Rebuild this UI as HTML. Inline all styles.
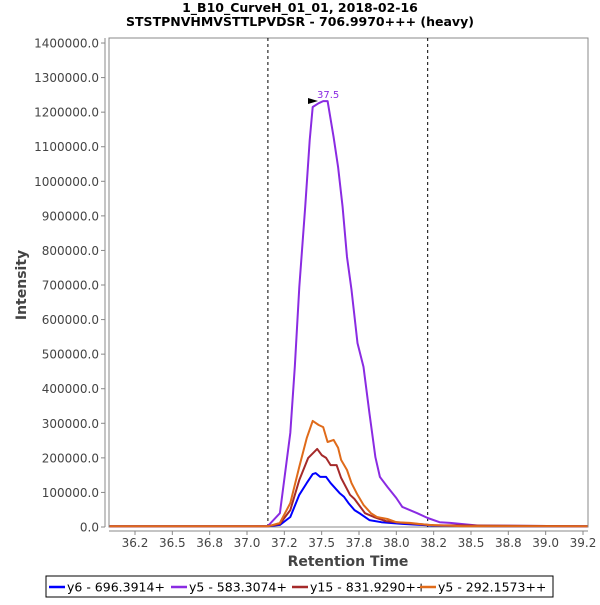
<!DOCTYPE html>
<html><head><meta charset="utf-8"><style>
body{margin:0;background:#fff;}
svg text{font-family:"DejaVu Sans","Liberation Sans",sans-serif;}
</style></head><body>
<svg id="chart" width="600" height="600" xmlns="http://www.w3.org/2000/svg">
<text x="300" y="12" text-anchor="middle" font-size="12.5" font-weight="bold">1_B10_CurveH_01_01, 2018-02-16</text>
<text x="300" y="26" text-anchor="middle" font-size="12.5" font-weight="bold">STSTPNVHMVSTTLPVDSR - 706.9970+++ (heavy)</text>
<rect x="109" y="38" width="479" height="489" fill="#fff" stroke="#888" stroke-width="1"/>
<line x1="105" y1="38" x2="105" y2="527" stroke="#888"/>
<line x1="109" y1="531" x2="588" y2="531" stroke="#888"/>
<g id="yticks"></g><g id="xticks"></g>
<g id="bounds"></g>
<g id="series"></g>
<text transform="translate(26,285) rotate(-90)" text-anchor="middle" font-size="14" font-weight="bold" fill="#444">Intensity</text>
<text x="348" y="566" text-anchor="middle" font-size="14" font-weight="bold" fill="#444">Retention Time</text>
<polygon points="308,98 318,101 308,104" fill="#000"/>
<text x="317" y="98" font-size="10" fill="#8a2be2">37.5</text>
<rect x="46" y="576" width="507" height="21" fill="#fff" stroke="#000"/>
<g id="legend"></g>
</svg>
<script>
const yTicks=[0,100000,200000,300000,400000,500000,600000,700000,800000,900000,1000000,1100000,1200000,1300000,1400000];
const xTicks=[36.25,36.5,36.75,37.0,37.25,37.5,37.75,38.0,38.25,38.5,38.75,39.0,39.25];
const xTickLabels=["36.2","36.5","36.8","37.0","37.2","37.5","37.8","38.0","38.2","38.5","38.8","39.0","39.2"];
const boundaries=[37.14,38.21];
const seriesNames=["y6 - 696.3914+","y5 - 583.3074+","y15 - 831.9290++","y5 - 292.1573++"];
const seriesColors=["#0000ff","#8a2be2","#a52a2a","#e06b1a"];
const tBlue=[36.08,37.05,37.14,37.22,37.29,37.35,37.40,37.44,37.46,37.49,37.53,37.56,37.62,37.65,37.68,37.72,37.76,37.82,37.90,38.04,38.25,38.65,39.28];
const vBlue=[2000,2000,2000,6000,29000,93000,127000,153000,156000,145000,145000,127000,98000,87000,69000,49000,38000,20000,14000,9000,4000,2000,2000];
const tPurple=[36.08,37.05,37.14,37.22,37.29,37.32,37.35,37.39,37.42,37.44,37.48,37.51,37.54,37.58,37.61,37.64,37.67,37.70,37.74,37.78,37.82,37.86,37.89,37.94,38.00,38.04,38.14,38.21,38.29,38.36,38.55,39.28];
const vPurple=[2000,2000,3000,40000,272000,463000,694000,926000,1119000,1215000,1226000,1232000,1232000,1128000,1041000,926000,781000,686000,532000,463000,330000,202000,145000,116000,84000,58000,40000,26000,14000,12000,4000,2000];
const tRed=[36.08,37.05,37.14,37.22,37.29,37.35,37.41,37.47,37.50,37.53,37.56,37.60,37.63,37.69,37.72,37.79,37.85,37.93,38.05,38.25,39.28];
const vRed=[2000,2000,2000,9000,49000,136000,200000,226000,208000,200000,179000,179000,142000,93000,81000,40000,29000,17000,12000,5000,2000];
const tOrange=[36.08,37.05,37.14,37.22,37.29,37.35,37.40,37.44,37.48,37.51,37.54,37.58,37.61,37.63,37.67,37.70,37.74,37.78,37.83,37.87,37.94,38.00,38.09,38.21,38.45,39.28];
const vOrange=[2000,2000,2000,12000,69000,174000,257000,307000,295000,289000,246000,252000,229000,194000,165000,127000,93000,64000,40000,29000,23000,14000,12000,6000,2000,2000];
const allT=[tBlue,tPurple,tRed,tOrange];
const allV=[vBlue,vPurple,vRed,vOrange];
const NS="http://www.w3.org/2000/svg";
function xs(t){return 135+(t-36.25)*149.33;}
function ys(v){return 527-v/100000*34.57;}
function mk(tag,attrs,parent){const e=document.createElementNS(NS,tag);for(const k in attrs)e.setAttribute(k,attrs[k]);parent.appendChild(e);return e;}
const yg=document.getElementById('yticks');
yTicks.forEach(v=>{
  const l=mk('line',{x1:101,x2:105,y1:ys(v),y2:ys(v),stroke:'#888'},yg);
  
  
  const t=mk('text',{x:99,y:ys(v)+4.5,'text-anchor':'end','font-size':'12',fill:'#444'},yg);
  
  
  t.textContent=v.toFixed(1);
});
const xg=document.getElementById('xticks');
xTicks.forEach((v,i)=>{
  const l=mk('line',{x1:xs(v),x2:xs(v),y1:531,y2:535,stroke:'#888'},xg);
  
  
  const t=mk('text',{x:xs(v),y:547,'text-anchor':'middle','font-size':'12',fill:'#444'},xg);
  
  
  t.textContent=xTickLabels[i];
});
const bg=document.getElementById('bounds');
boundaries.forEach(b=>{
  const l=mk('line',{x1:xs(b),x2:xs(b),y1:38,y2:527,stroke:'#000','stroke-dasharray':'3,3','stroke-width':1},bg);
  
  
});
const sg=document.getElementById('series');
allT.forEach((ts,i)=>{
  const pts=ts.map((t,j)=>xs(t).toFixed(1)+','+ys(allV[i][j]).toFixed(1)).join(' ');
  const p=mk('polyline',{points:pts,fill:'none',stroke:seriesColors[i],'stroke-width':2,'stroke-linejoin':'round'},sg);
  
  
});
const lg=document.getElementById('legend');
const lx=[49,171,292,420];
seriesNames.forEach((n,i)=>{
  const l=mk('line',{x1:lx[i],x2:lx[i]+16,y1:587,y2:587,stroke:seriesColors[i],'stroke-width':2.5},lg);
  
  
  const t=mk('text',{x:lx[i]+18,y:591.5,'font-size':'12.5',fill:'#000'},lg);
  
  
  t.textContent=n;
});
</script>
</body></html>
